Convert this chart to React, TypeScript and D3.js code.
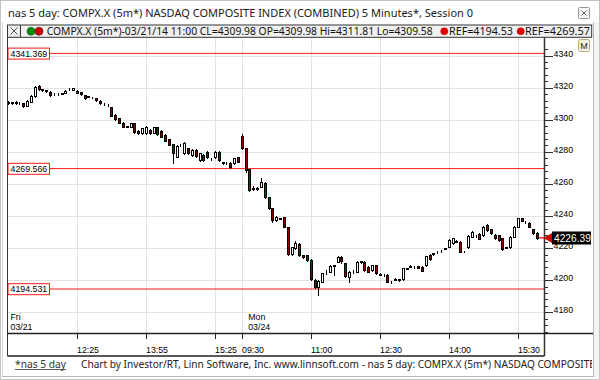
import React from 'react';
import * as d3 from 'd3';

// ---- Data (COMPX.X 5-minute bars, Fri 03/21 10:55 .. Mon 03/24 15:55) ----
const opens = [
  4310.4, 4310.9, 4310.2, 4310.6, 4310.2, 4308.6, 4311.3, 4314.8, 4321.0, 4319.0,
  4318.4, 4317.5, 4315.8, 4316.0, 4316.2, 4316.9, 4318.9, 4318.6, 4317.9, 4317.1,
  4315.4, 4314.6, 4314.2, 4313.4, 4311.9, 4309.8, 4309.2, 4307.7, 4303.0, 4300.9,
  4298.2, 4295.9, 4295.7, 4297.8, 4293.2, 4291.5, 4291.5, 4293.6, 4292.0, 4295.3,
  4293.2, 4290.5, 4287.8, 4284.9, 4277.0, 4284.0, 4279.0, 4282.2, 4278.0, 4281.1,
  4274.9, 4278.0, 4280.0, 4275.5, 4276.6, 4280.0, 4273.4, 4273.0, 4273.2, 4272.8,
  4276.6,
  4289.9, 4282.2, 4269.1, 4257.0, 4257.4, 4258.3, 4260.8, 4251.7, 4244.8, 4237.5,
  4238.3, 4239.2, 4233.0, 4216.3, 4219.9, 4222.5, 4215.7, 4215.7, 4212.6, 4200.1,
  4195.5, 4199.0, 4205.0, 4205.3, 4209.0, 4211.5, 4214.6, 4210.5, 4202.2, 4205.0,
  4205.3, 4211.5, 4211.5, 4208.4, 4206.3, 4209.4, 4203.5, 4203.4, 4203.2, 4198.8,
  4200.3, 4200.3, 4200.5, 4207.2, 4208.8, 4208.2, 4208.6, 4208.4, 4209.4, 4215.7,
  4216.4, 4217.4, 4218.0, 4219.6, 4220.9, 4223.0, 4224.3, 4224.0, 4217.9, 4220.5,
  4227.1, 4227.7, 4228.8, 4228.2, 4234.4, 4231.7, 4228.2, 4228.0, 4226.1, 4220.2,
  4220.5, 4227.1, 4233.3, 4238.6, 4236.3, 4235.8, 4231.7, 4229.5,
];
const highs = [
  4311.5, 4311.2, 4311.4, 4310.9, 4310.5, 4312.3, 4315.2, 4321.2, 4321.5, 4319.3,
  4318.6, 4317.9, 4316.4, 4316.5, 4316.9, 4318.4, 4319.6, 4320.0, 4318.3, 4317.4,
  4315.7, 4314.9, 4314.5, 4313.8, 4312.2, 4310.2, 4309.6, 4308.1, 4303.4, 4301.2,
  4298.6, 4296.3, 4298.3, 4298.1, 4293.5, 4295.0, 4296.1, 4294.0, 4295.6, 4295.6,
  4293.5, 4290.9, 4288.2, 4285.2, 4284.0, 4284.8, 4286.0, 4282.6, 4281.5, 4281.5,
  4279.4, 4278.4, 4280.4, 4275.9, 4280.4, 4280.4, 4273.8, 4273.4, 4273.6, 4276.4,
  4277.0,
  4291.0, 4282.6, 4269.5, 4258.5, 4258.0, 4264.0, 4261.2, 4252.1, 4245.2, 4240.0,
  4239.0, 4239.6, 4233.4, 4220.9, 4224.5, 4222.9, 4216.0, 4216.0, 4213.0, 4200.5,
  4200.1, 4204.7, 4206.5, 4209.2, 4209.5, 4215.0, 4215.0, 4210.9, 4205.7, 4206.3,
  4211.9, 4212.2, 4211.9, 4208.8, 4209.8, 4209.8, 4204.6, 4203.8, 4203.6, 4199.3,
  4201.1, 4200.9, 4207.8, 4207.8, 4209.2, 4208.8, 4209.0, 4208.8, 4215.4, 4216.1,
  4217.1, 4218.1, 4218.8, 4220.3, 4225.4, 4226.5, 4224.8, 4224.4, 4218.4, 4227.9,
  4230.6, 4228.2, 4229.2, 4233.7, 4234.8, 4232.1, 4228.6, 4228.4, 4226.5, 4221.0,
  4227.5, 4233.7, 4239.0, 4239.0, 4236.8, 4236.2, 4232.1, 4230.2,
];
const lows = [
  4310.0, 4309.8, 4310.0, 4309.7, 4308.2, 4308.3, 4311.0, 4314.5, 4318.7, 4318.2,
  4317.5, 4315.0, 4315.5, 4315.6, 4316.0, 4316.6, 4318.8, 4318.4, 4316.6, 4315.7,
  4313.0, 4314.0, 4313.6, 4312.0, 4309.9, 4309.2, 4308.6, 4302.2, 4299.9, 4297.8,
  4295.3, 4295.3, 4295.4, 4291.9, 4291.2, 4291.2, 4291.2, 4291.2, 4291.7, 4290.8,
  4289.0, 4286.5, 4284.0, 4273.0, 4276.6, 4283.8, 4278.6, 4278.6, 4277.7, 4277.0,
  4274.5, 4274.5, 4276.2, 4274.9, 4276.2, 4274.5, 4272.6, 4272.2, 4270.0, 4272.4,
  4273.5,
  4281.8, 4267.6, 4255.8, 4256.0, 4256.2, 4258.0, 4251.3, 4244.4, 4236.5, 4237.2,
  4238.0, 4232.9, 4215.9, 4215.9, 4219.6, 4215.3, 4213.9, 4212.2, 4200.1, 4195.1,
  4190.6, 4198.6, 4204.0, 4205.0, 4203.0, 4211.2, 4211.0, 4202.2, 4199.2, 4204.2,
  4205.0, 4211.0, 4206.0, 4204.9, 4206.0, 4203.9, 4203.2, 4202.7, 4198.6, 4198.2,
  4200.0, 4199.8, 4200.1, 4206.8, 4208.0, 4207.8, 4207.6, 4205.5, 4209.0, 4212.6,
  4216.0, 4217.0, 4217.8, 4219.3, 4220.5, 4222.7, 4223.6, 4217.3, 4217.3, 4220.1,
  4226.8, 4227.2, 4225.6, 4227.8, 4230.9, 4228.8, 4225.7, 4224.6, 4218.8, 4219.8,
  4220.1, 4226.8, 4233.0, 4236.7, 4235.5, 4232.9, 4228.8, 4226.0,
];
const closes = [
  4310.9, 4310.2, 4310.9, 4310.2, 4308.6, 4311.9, 4314.8, 4320.6, 4319.0, 4318.6,
  4317.9, 4315.4, 4316.0, 4316.1, 4316.5, 4318.1, 4319.2, 4319.6, 4316.9, 4316.0,
  4313.4, 4314.4, 4314.0, 4312.3, 4310.2, 4309.6, 4309.0, 4302.5, 4300.3, 4298.2,
  4295.7, 4295.7, 4297.8, 4292.2, 4291.5, 4294.7, 4295.7, 4291.5, 4295.3, 4291.1,
  4289.4, 4286.9, 4284.3, 4279.5, 4283.6, 4284.3, 4285.7, 4279.0, 4281.1, 4277.4,
  4279.0, 4274.9, 4276.6, 4275.3, 4280.0, 4274.9, 4273.2, 4272.8, 4270.7, 4276.0,
  4273.9,
  4282.2, 4268.7, 4256.2, 4257.3, 4257.0, 4261.4, 4251.7, 4244.8, 4237.5, 4239.6,
  4238.5, 4233.3, 4216.3, 4220.5, 4223.0, 4215.7, 4214.3, 4212.6, 4200.5, 4195.5,
  4199.7, 4204.3, 4205.3, 4208.8, 4209.3, 4214.6, 4212.0, 4202.6, 4205.3, 4205.3,
  4211.5, 4211.7, 4206.3, 4205.3, 4209.4, 4204.3, 4203.8, 4203.2, 4199.0, 4198.6,
  4200.7, 4200.5, 4207.4, 4207.4, 4208.2, 4208.4, 4207.9, 4205.9, 4215.0, 4213.0,
  4216.7, 4217.7, 4218.4, 4219.9, 4225.0, 4226.1, 4224.0, 4217.7, 4217.7, 4227.5,
  4230.2, 4227.5, 4226.0, 4233.3, 4231.3, 4229.2, 4226.1, 4225.0, 4219.2, 4220.5,
  4227.1, 4233.3, 4238.6, 4237.1, 4236.0, 4233.3, 4229.2, 4226.39,
];

const refLevels = [4341.369, 4269.566, 4194.531];
const refLabels = ['4341.369', '4269.566', '4194.531'];
const priceTicks = [4180, 4200, 4220, 4240, 4260, 4280, 4300, 4320, 4340];
const timeTickIndex = [18, 36, 54, 61, 79, 97, 115, 133];
const timeTickLabels = ['12:25', '13:55', '15:25', '09:30', '11:00', '12:30', '14:00', '15:30'];
const dayIndex = [0, 61];
const dayNames = ['Fri', 'Mon'];
const dayDates = ['03/21', '03/24'];
const lastPrice = 4226.39;

const titleText = 'nas 5 day: COMPX.X (5m*) NASDAQ COMPOSITE INDEX (COMBINED) 5 Minutes*, Session 0';
const legendText = 'COMPX.X (5m*)-03/21/14 11:00 CL=4309.98 OP=4309.98 Hi=4311.81 Lo=4309.58';
const refLegend = ['REF=4194.53', 'REF=4269.57'];
const statusLink = '*nas 5 day';
const statusText = 'Chart by Investor/RT, Linn Software, Inc. www.linnsoft.com - nas 5 day: COMPX.X (5m*) NASDAQ COMPOSITE';

// ---- Layout ----
const W = 600, H = 380;
const plotL = 7.5, plotR = 544, plotT = 37.5, plotB = 333;
const axisB = 356;
const frameR = 593;
const small = "'Liberation Sans', Arial, sans-serif";
const ui = "'Noto Sans', 'DejaVu Sans', sans-serif";

export default function App() {
  const x = d3.scaleLinear().domain([0, closes.length - 1]).range([7.9, 536.9]);
  const y = d3.scaleLinear().domain([4194.531, 4341.369]).range([289, 53.4]);
  const minorTicks = d3.range(4168, 4348, 4).filter((v) => v % 20 !== 0);
  const px = (i: number) => Math.round(x(i));
  const yl = y(lastPrice);

  return (
    <div style={{ position: 'fixed', left: 0, top: 0, width: W, height: H, background: '#fff' }}>
      <svg width={W} height={H} viewBox={`0 0 ${W} ${H}`} style={{ display: 'block' }}>
        <defs>
          <clipPath id="plotClip">
            <rect x={plotL + 0.5} y={plotT} width={plotR - plotL - 0.5} height={plotB - plotT} />
          </clipPath>
          <clipPath id="statusClip">
            <rect x={0} y={356} width={frameR - 1} height={22} />
          </clipPath>
        </defs>
        <rect x={0} y={0} width={W} height={H} fill="#fff" />
        {/* window frame */}
        <rect x={0.5} y={0.5} width={W - 1} height={H - 1} fill="none" stroke="#c4c4c4" />
        <line x1={2.5} x2={2.5} y1={22} y2={377} stroke="#d8d8d8" />
        <line x1={frameR + 0.5} x2={frameR + 0.5} y1={22} y2={377} stroke="#b8b8b8" />
        <line x1={2} x2={frameR} y1={376.5} y2={376.5} stroke="#b8b8b8" />
        <rect x={frameR + 1} y={22} width={W - frameR - 2} height={355} fill="#f4f4f4" />

        {/* title */}
        <text x={8} y={17} fontFamily={ui} fontSize={11.5} fill="#1a1a1a" textLength={465} lengthAdjust="spacingAndGlyphs">
          {titleText}
        </text>
        <rect x={578.5} y={7.5} width={11} height={11} fill="#f6f6f6" stroke="#9a9a9a" rx={1} />
        <path d="M581.5,10.5 L586.5,15.5 M586.5,10.5 L581.5,15.5" stroke="#666" strokeWidth={1} />

        {/* legend row */}
        <rect x={plotL} y={25} width={591.7 - plotL} height={12.3} fill="#f0f0f0" stroke="#333" strokeWidth={1} />
        <line x1={20.5} x2={20.5} y1={25} y2={37.3} stroke="#333" />
        <path d="M10.5,27.5 L17.5,34.5 M17.5,27.5 L10.5,34.5" stroke="#444" strokeWidth={0.9} />
        <circle cx={31} cy={31.3} r={4} fill="#0a8a0a" stroke="#063" strokeWidth={0.6} />
        <circle cx={39} cy={31.3} r={4} fill="#c80000" stroke="#600" strokeWidth={0.6} />
        <text x={46.7} y={35.2} fontFamily={ui} fontSize={10} fill="#111" textLength={386} lengthAdjust="spacingAndGlyphs">
          {legendText}
        </text>
        <circle cx={444.3} cy={31.3} r={3.8} fill="#e00000" />
        <text x={449} y={35.2} fontFamily={ui} fontSize={10} fill="#111" textLength={64} lengthAdjust="spacingAndGlyphs">
          {refLegend[0]}
        </text>
        <circle cx={520.7} cy={31.3} r={3.8} fill="#e00000" />
        <text x={525} y={35.2} fontFamily={ui} fontSize={10} fill="#111" textLength={65} lengthAdjust="spacingAndGlyphs">
          {refLegend[1]}
        </text>
        {/* M button */}
        <rect x={578.5} y={39.5} width={11} height={12} rx={2} fill="#f7f3e6" stroke="#b8a878" />
        <text x={584} y={49} textAnchor="middle" fontFamily={small} fontSize={9} fill="#223">M</text>

        {/* grid */}
        <g stroke="#e2e2e2" strokeWidth={1} shapeRendering="crispEdges">
          {priceTicks.map((v) => (
            <line key={'h' + v} x1={plotL} x2={plotR} y1={Math.round(y(v)) + 0.5} y2={Math.round(y(v)) + 0.5} />
          ))}
          {timeTickIndex.map((i) => (
            <line key={'v' + i} x1={px(i) + 0.5} x2={px(i) + 0.5} y1={plotT} y2={plotB} />
          ))}
        </g>

        {/* reference lines */}
        {refLevels.map((v) => (
          <line key={'r' + v} x1={plotL} x2={plotR} y1={y(v)} y2={y(v)} stroke="#ff1a1a" strokeWidth={1} />
        ))}

        {/* candles */}
        <g clipPath="url(#plotClip)" shapeRendering="crispEdges">
          {closes.map((c, i) => {
            const o = opens[i];
            const up = c >= o;
            const cx = px(i);
            const top = Math.round(y(Math.max(o, c)));
            const bot = Math.round(y(Math.min(o, c)));
            const h = Math.max(bot - top, 0);
            return (
              <g key={'c' + i}>
                <line x1={cx + 0.5} x2={cx + 0.5} y1={Math.round(y(highs[i]))} y2={Math.round(y(lows[i])) + 1} stroke="#000" />
                <rect x={cx - 0.5} y={top + 0.5} width={2} height={h} fill={up ? '#fff' : '#8c0000'} stroke="#000" strokeWidth={1} />
              </g>
            );
          })}
        </g>

        {/* reference labels */}
        {refLevels.map((v, k) => (
          <g key={'rl' + v}>
            <rect x={plotL + 0.5} y={y(v) - 5.3} width={41.5} height={11} fill="#fff" stroke="#ff1a1a" strokeWidth={1} />
            <text x={10.5} y={y(v) + 3.3} fontFamily={small} fontSize={8.8} fill="#000">{refLabels[k]}</text>
          </g>
        ))}

        {/* day labels */}
        {dayIndex.map((i, k) => (
          <g key={'d' + i}>
            <text x={k === 0 ? 10.5 : x(i) + 6.5} y={319.5} fontFamily={small} fontSize={8.8} fill="#000">{dayNames[k]}</text>
            <text x={k === 0 ? 10.5 : x(i) + 6.5} y={329.5} fontFamily={small} fontSize={8.8} fill="#000">{dayDates[k]}</text>
          </g>
        ))}

        {/* plot left frame */}
        <line x1={plotL} x2={plotL} y1={25} y2={axisB} stroke="#333" strokeWidth={1} />

        {/* right price axis */}
        <line x1={plotR + 0.5} x2={plotR + 0.5} y1={plotT} y2={axisB} stroke="#333" strokeWidth={1.5} />
        <g shapeRendering="crispEdges">
          {minorTicks.map((v) => (
            <line key={'m' + v} x1={plotR} x2={plotR + 4} y1={Math.round(y(v)) + 0.5} y2={Math.round(y(v)) + 0.5} stroke="#333" />
          ))}
          {priceTicks.map((v) => (
            <line key={'t' + v} x1={plotR} x2={plotR + 9} y1={Math.round(y(v)) + 0.5} y2={Math.round(y(v)) + 0.5} stroke="#333" />
          ))}
        </g>
        {priceTicks.map((v) => (
          <text key={'tl' + v} x={553.5} y={y(v) + 1} fontFamily={small} fontSize={8.8} fill="#000">{v}</text>
        ))}

        {/* last price tag */}
        <line x1={539} x2={545} y1={yl} y2={yl} stroke="#e00000" strokeWidth={1.2} />
        <path d={`M543.5,${yl} L552,${yl - 5} L552,${yl + 5} Z`} fill="#d00000" />
        <rect x={552} y={yl - 6.4} width={39} height={13} fill="#000" />
        <text x={554} y={yl + 3.8} fontFamily={small} fontSize={10.2} fill="#fff">{lastPrice.toFixed(2)}</text>

        {/* time axis */}
        <line x1={plotL} x2={frameR} y1={plotB + 0.5} y2={plotB + 0.5} stroke="#222" strokeWidth={1.3} />
        <line x1={plotL} x2={plotR + 0.5} y1={axisB} y2={axisB} stroke="#222" strokeWidth={1.3} />
        {timeTickIndex.map((i, k) => (
          <g key={'tt' + i}>
            <line x1={px(i) + 0.5} x2={px(i) + 0.5} y1={plotB} y2={plotB + 6} stroke="#222" strokeWidth={1} />
            <text x={px(i)} y={353} fontFamily={small} fontSize={8.8} fill="#000">{timeTickLabels[k]}</text>
          </g>
        ))}

        {/* status bar */}
        <g clipPath="url(#statusClip)">
          <text x={15} y={367.5} fontFamily={ui} fontSize={10.5} fill="#333" textLength={51} lengthAdjust="spacingAndGlyphs">
            {statusLink}
          </text>
          <line x1={15} x2={66} y1={369.5} y2={369.5} stroke="#333" strokeWidth={0.8} />
          <text x={81} y={367.5} fontFamily={ui} fontSize={10.5} fill="#222" textLength={514} lengthAdjust="spacingAndGlyphs">
            {statusText}
          </text>
        </g>
      </svg>
    </div>
  );
}
